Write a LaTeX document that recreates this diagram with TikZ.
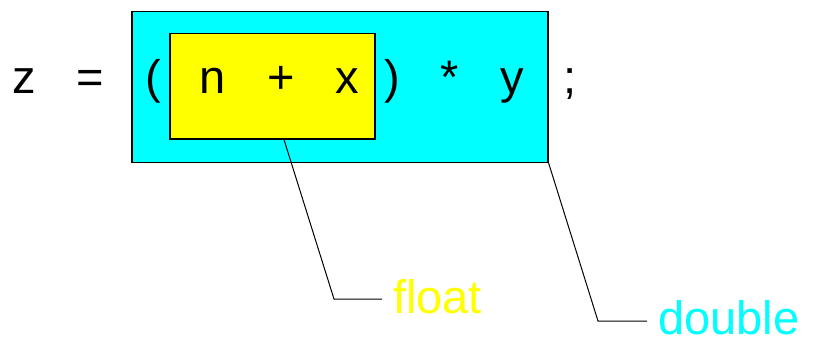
\documentclass[tikz,border=0pt]{standalone}
\usepackage{fontspec}
\setmainfont{Liberation Sans}
\begin{document}
\begin{tikzpicture}[x=1pt,y=-1pt,
  box/.style={draw=black,line width=1.3pt,inner sep=0pt},
  chr/.style={inner sep=0pt,anchor=base,font=\fontsize{47}{56}\selectfont},
  lbl/.style={inner sep=0pt,anchor=base west,text depth=0pt,font=\fontsize{47}{56}\selectfont},
  lead/.style={draw=black,line width=1pt}]
\useasboundingbox (0,0) rectangle (814,338);
\node[box,fill={rgb,255:red,0;green,255;blue,255},minimum width=416pt,minimum height=151pt] (dbl) at (340,87) {};
\node[box,fill={rgb,255:red,255;green,255;blue,0},minimum width=205pt,minimum height=105.5pt] (flt) at (272.5,86.25) {};
\node[chr] (cz) at (24,93) {z};
\node[chr] (ceq) at (90,93) {=};
\node[chr] (clp) at (153,93) {(};
\node[chr] (cn) at (213,93) {n};
\node[chr] (cplus) at (281,93) {+};
\node[chr] (cx) at (347,93) {x};
\node[chr] (crp) at (392,93) {)};
\node[chr] (cstar) at (450,93) {*};
\node[chr] (cy) at (512,93) {y};
\node[chr] (csemi) at (570,93) {;};
\node[lbl,text={rgb,255:red,255;green,255;blue,0}] (lfloat) at (393,313) {float};
\node[lbl,text={rgb,255:red,0;green,255;blue,255}] (ldouble) at (658,334) {double};
\coordinate (k1) at (334,299);
\coordinate (k1e) at (382,299);
\coordinate (k2) at (598,321);
\coordinate (k2e) at (647,321);
\draw[lead] ([xshift=11.5pt]flt.south) -- (k1) -- (k1e);
\draw[lead] (dbl.south east) -- (k2) -- (k2e);
\end{tikzpicture}
\end{document}
